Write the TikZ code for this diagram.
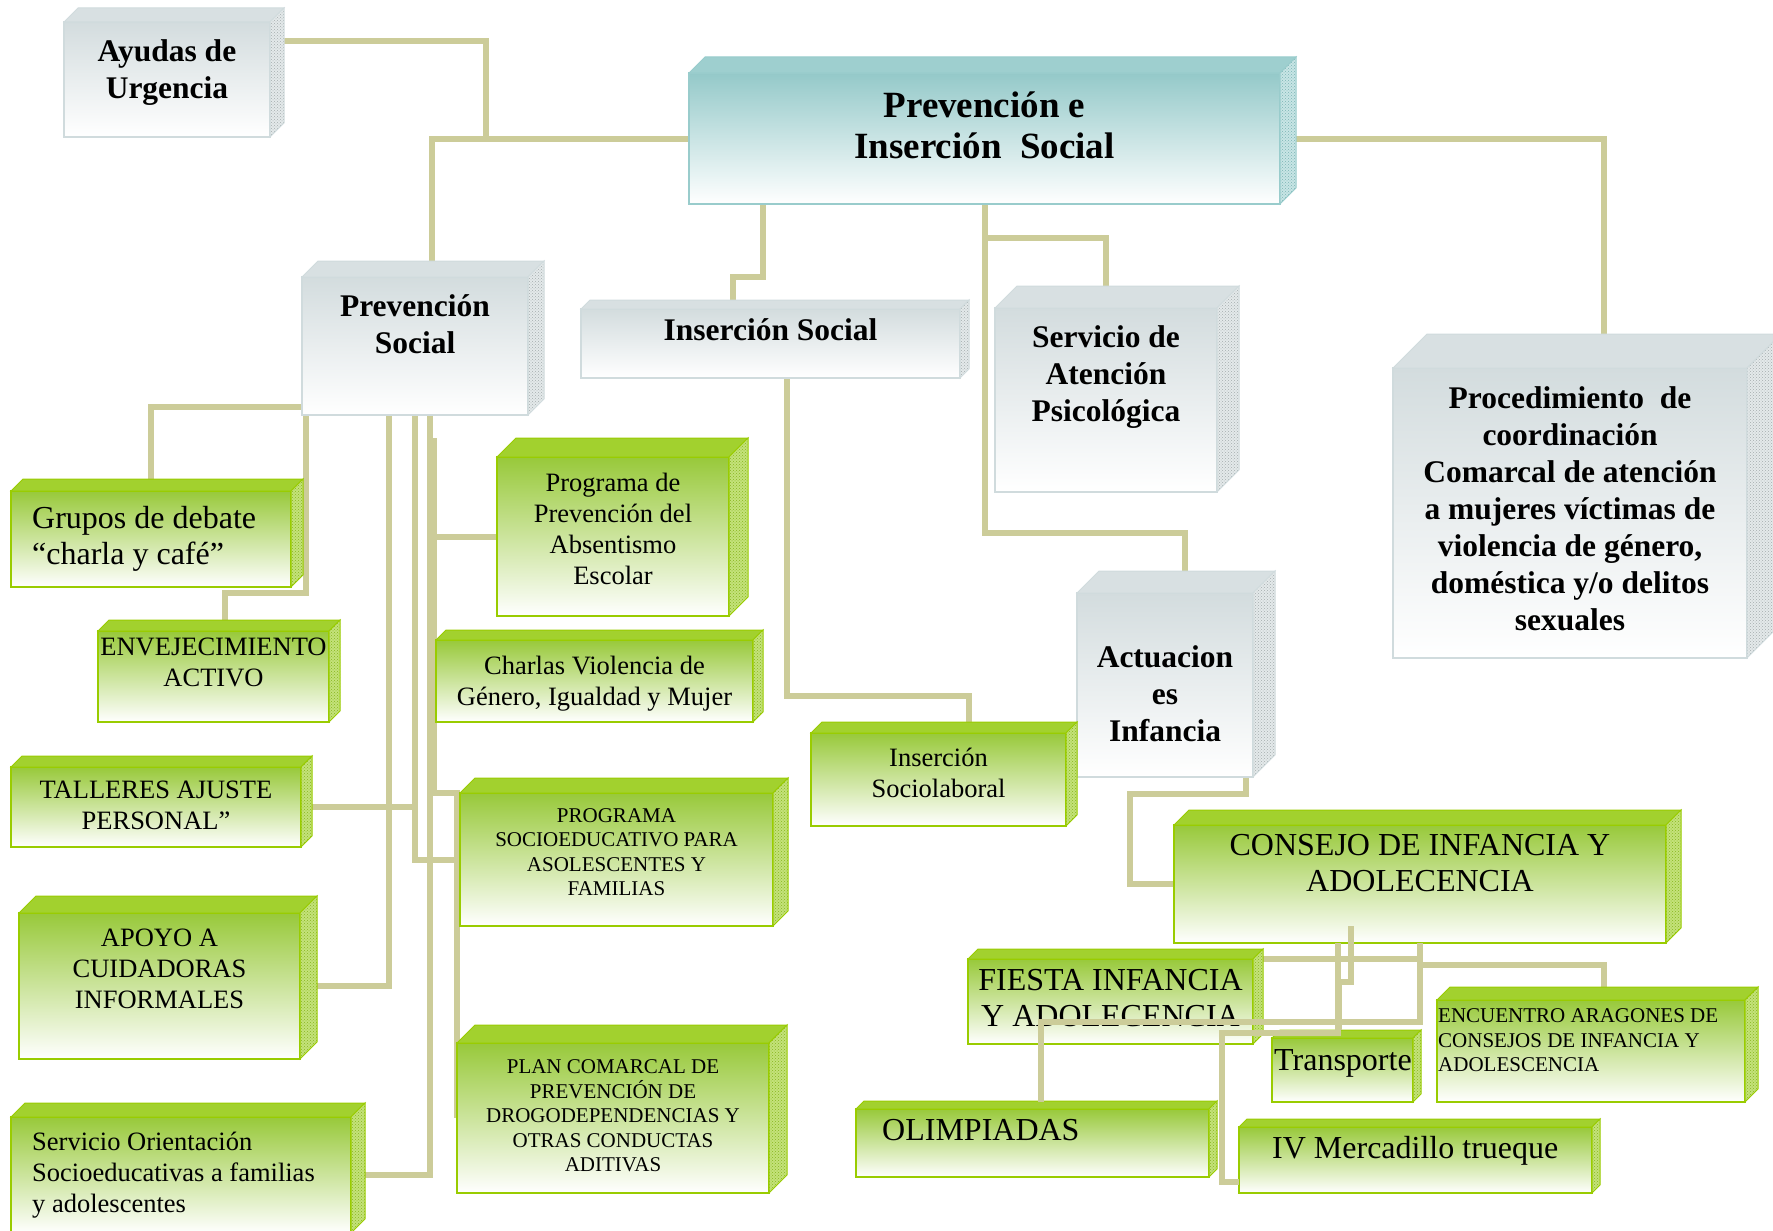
\documentclass[tikz,border=0pt]{standalone}
\usepackage{fontspec}
\setmainfont{Liberation Serif}
\usetikzlibrary{positioning, patterns, backgrounds}

\definecolor{linkcol}{HTML}{CCCC99}
\definecolor{topgreen}{HTML}{98C93A}
\definecolor{roofgreen}{HTML}{A2D12E}
\definecolor{edgegreen}{HTML}{99CC00}
\definecolor{sidegreen}{HTML}{C4E27A}
\definecolor{meshgreen}{HTML}{86B51E}
\definecolor{topgrey}{HTML}{D3DCDE}
\definecolor{roofgrey}{HTML}{D8E0E2}
\definecolor{edgegrey}{HTML}{D0DBDD}
\definecolor{sidegrey}{HTML}{E4E9EA}
\definecolor{meshgrey}{HTML}{A4ADAE}
\definecolor{topteal}{HTML}{94C9C9}
\definecolor{roofteal}{HTML}{9ECFCF}
\definecolor{edgeteal}{HTML}{99CCCC}
\definecolor{sideteal}{HTML}{C8E5E5}
\definecolor{meshteal}{HTML}{7AB3B3}

\begin{document}
\begin{tikzpicture}[
    x=1pt, y=-1pt,
    box/.style={rectangle, anchor=north west, inner sep=0pt, outer sep=0pt, line width=1.5pt, bottom color=white},
    greybox/.style={box, draw=edgegrey, top color=topgrey},
    tealbox/.style={box, draw=edgeteal, top color=topteal},
    greenbox/.style={box, draw=edgegreen, top color=topgreen},
    bold/.style={inner sep=0pt, align=center, font=\fontsize{31.5}{37}\selectfont\bfseries, execute at begin node=\strut},
    bigbold/.style={bold, font=\fontsize{37}{41}\selectfont\bfseries},
    plain/.style={inner sep=0pt, align=center, font=\fontsize{32}{36}\selectfont, execute at begin node=\strut},
    medium/.style={plain, font=\fontsize{26.5}{31}\selectfont},
    small/.style={plain, font=\fontsize{21}{24.5}\selectfont},
    link/.style={draw=linkcol, line width=6pt}
]
\useasboundingbox (0,0) rectangle (1773,1231);
\clip (0,0) rectangle (1773,1231);

% cabecera
\node[tealbox, minimum width=591pt, minimum height=131pt] (main) at (689,73) {};
\node[greybox, minimum width=206pt, minimum height=115pt] (ayudas) at (64,22) {};
\node[greybox, minimum width=354pt, minimum height=290pt] (proc) at (1393,368) {};

% areas
\node[greybox, minimum width=226pt, minimum height=138pt] (psocial) at (302,277) {};
\node[greybox, minimum width=379pt, minimum height=69pt] (insoc) at (581,309) {};
\node[greybox, minimum width=222pt, minimum height=184pt] (servicio) at (995,308) {};
\node[greybox, minimum width=176pt, minimum height=184pt] (actuac) at (1077,593) {};

% prevencion social
\node[greenbox, minimum width=280pt, minimum height=96pt] (grupos) at (11,491) {};
\node[greenbox, minimum width=231pt, minimum height=91pt] (envej) at (98,631) {};
\node[greenbox, minimum width=290pt, minimum height=80pt] (talleres) at (11,767) {};
\node[greenbox, minimum width=281pt, minimum height=146pt] (apoyo) at (19,913) {};
\node[greenbox, minimum width=340pt, minimum height=116pt] (orient) at (11,1117) {};
\node[greenbox, minimum width=232pt, minimum height=159pt] (absent) at (497,457) {};
\node[greenbox, minimum width=317pt, minimum height=82pt] (charlas) at (436,640) {};
\node[greenbox, minimum width=313pt, minimum height=133pt] (progsoc) at (460,793) {};
\node[greenbox, minimum width=312pt, minimum height=150pt] (plan) at (457,1043) {};

% insercion y actuaciones
\node[greenbox, minimum width=255pt, minimum height=93pt] (sociolab) at (811,733) {};
\node[greenbox, minimum width=492pt, minimum height=118pt] (consejo) at (1174,825) {};
\node[greenbox, minimum width=285pt, minimum height=85pt] (fiesta) at (968,959) {};
\node[greenbox, minimum width=141pt, minimum height=64pt] (transp) at (1272,1038) {};
\node[greenbox, minimum width=308pt, minimum height=102pt] (encuent) at (1437,1000) {};
\node[greenbox, minimum width=353pt, minimum height=68pt] (olimp) at (856,1109) {};
\node[greenbox, minimum width=353pt, minimum height=66pt] (mercad) at (1239,1127) {};

% caras 3D
\foreach \n/\d/\c in {main/16/teal, ayudas/14/grey, proc/34/grey, psocial/16/grey, insoc/9/grey, servicio/22/grey, actuac/22/grey,
    grupos/12/green, envej/11/green, talleres/11/green, apoyo/17/green, orient/14/green, absent/19/green, charlas/10/green,
    progsoc/15/green, plan/18/green, sociolab/11/green, consejo/15/green, fiesta/10/green, transp/8/green, encuent/13/green,
    olimp/8/green, mercad/8/green}{
  \filldraw[fill=roof\c, draw=edge\c, line width=1pt] (\n.north west) -- ++(\d,-\d) -- ([shift={(\d,-\d)}]\n.north east) -- (\n.north east) -- cycle;
  \draw[preaction={fill=side\c}, pattern=crosshatch dots, pattern color=mesh\c, draw=edge\c, line width=1pt] (\n.north east) -- ++(\d,-\d) -- ([shift={(\d,-\d)}]\n.south east) -- (\n.south east) -- cycle;
}

% textos
\node[bigbold, below=19pt of main.north] (main-txt) {Prevención e\\Inserción~~Social};
\node[bold, below=17pt of ayudas.north] (ayudas-txt) {Ayudas de\\Urgencia};
\node[bold, below=18pt of proc.north] (proc-txt) {Procedimiento~~de\\coordinación\\Comarcal de atención\\a mujeres víctimas de\\violencia de género,\\doméstica y/o delitos\\sexuales};
\node[bold, below=17pt of psocial.north] (psocial-txt) {Prevención\\Social};
\node[bold, below=5.5pt of insoc.north] (insoc-txt) {Inserción Social};
\node[bold, below=17pt of servicio.north] (servicio-txt) {Servicio de\\Atención\\Psicológica};
\node[bold, below=52pt of actuac.north] (actuac-txt) {Actuacion\\es\\Infancia};
\node[plain, align=left, below right=15.5pt and 21pt of grupos.north west] (grupos-txt) {Grupos de debate\\“charla y café”};
\node[medium, below=7pt of envej.north] (envej-txt) {ENVEJECIMIENTO\\ACTIVO};
\node[medium, below=14pt of talleres.north] (talleres-txt) {TALLERES AJUSTE\\PERSONAL”};
\node[medium, below=16pt of apoyo.north] (apoyo-txt) {APOYO A\\CUIDADORAS\\INFORMALES};
\node[medium, align=left, below right=14.5pt and 21pt of orient.north west] (orient-txt) {Servicio Orientación\\Socioeducativas a familias\\y adolescentes};
\node[medium, below=16pt of absent.north] (absent-txt) {Programa de\\Prevención del\\Absentismo\\Escolar};
\node[medium, below=16pt of charlas.north] (charlas-txt) {Charlas Violencia de\\Género, Igualdad y Mujer};
\node[small, below=15pt of progsoc.north] (progsoc-txt) {PROGRAMA\\SOCIOEDUCATIVO PARA\\ASOLESCENTES Y\\FAMILIAS};
\node[small, below=16.5pt of plan.north] (plan-txt) {PLAN COMARCAL DE\\PREVENCIÓN DE\\DROGODEPENDENCIAS Y\\OTRAS CONDUCTAS\\ADITIVAS};
\node[medium, below=15pt of sociolab.north] (sociolab-txt) {Inserción\\Sociolaboral};
\node[plain, below=9.5pt of consejo.north] (consejo-txt) {CONSEJO DE INFANCIA Y\\ADOLECENCIA};
\node[plain, below=10pt of fiesta.north] (fiesta-txt) {FIESTA INFANCIA\\Y ADOLECENCIA};
\node[plain, below right=7pt and 2pt of transp.north west] (transp-txt) {Transporte};
\node[small, align=left, below right=8.5pt and 1pt of encuent.north west] (encuent-txt) {ENCUENTRO ARAGONES DE\\CONSEJOS DE INFANCIA Y\\ADOLESCENCIA};
\node[plain, below right=6pt and 26pt of olimp.north west] (olimp-txt) {OLIMPIADAS};
\node[plain, below right=6pt and 33pt of mercad.north west] (mercad-txt) {IV Mercadillo trueque};

% conexiones
\begin{pgfonlayer}{background}
\draw[link] (main.west) -| ([xshift=17pt]psocial.north);
\draw[link] ([yshift=-19pt]ayudas.north east) -| ([xshift=71pt]psocial.north |- main.west);
\draw[link] (main.east) -| ([xshift=34pt]proc.north);
\draw[link] ([xshift=-222pt]main.south) -- ++(0,73) -| ([xshift=-38pt]insoc.north);
\draw[link] (main.south) -- ++(0,34) -| (servicio.north);
\draw[link] (main.south) -- ++(0,329) -| ([xshift=20pt]actuac.north);
\draw[link] ([xshift=16pt]insoc.south) -- ++(0,318) -| ([xshift=30pt]sociolab.north);
\draw[link] ([xshift=81pt]actuac.south) -- ++(0,17) -| ([xshift=-44pt]consejo.west) -- (consejo.west);
\draw[link] ([yshift=8pt]psocial.south west) -| (grupos.north);
\draw[link] ([xshift=4pt]psocial.south west) -- ++(0,178) -| ([xshift=11pt]envej.north);
\draw[link] ([xshift=-26pt]psocial.south) |- (apoyo.east);
\draw[link] (psocial.south) |- (progsoc.west);
\draw[link] (talleres.east) -- (psocial.south |- talleres.east);
\draw[link] ([xshift=15pt]psocial.south) |- (orient.east);
\draw[link] (absent.west) -- ([xshift=15pt]psocial.south |- absent.west);
\draw[link] ([xshift=19pt,yshift=-23pt]psocial.south) |- ([xshift=-3pt]progsoc.north west) |- (plan.west);
\draw[link] ([xshift=10pt]fiesta.north east) -- (fiesta.north east -| consejo.south);
\draw[link] ([yshift=-22pt]consejo.south) -| ([xshift=13pt]encuent.north);
\end{pgfonlayer}
\draw[link] (consejo.south) -- ++(0,79) -| ([xshift=8pt,yshift=7pt]olimp.north);
\draw[link] ([xshift=-69pt,yshift=17pt]consejo.south) -- ++(0,56) -| ([xshift=-4pt,yshift=8pt]transp.north);
\draw[link] ([xshift=-82pt]consejo.south) -- ++(0,90) -| ([xshift=-17pt,yshift=11pt]mercad.south west) -- ([yshift=11pt]mercad.south west);
\end{tikzpicture}
\end{document}
